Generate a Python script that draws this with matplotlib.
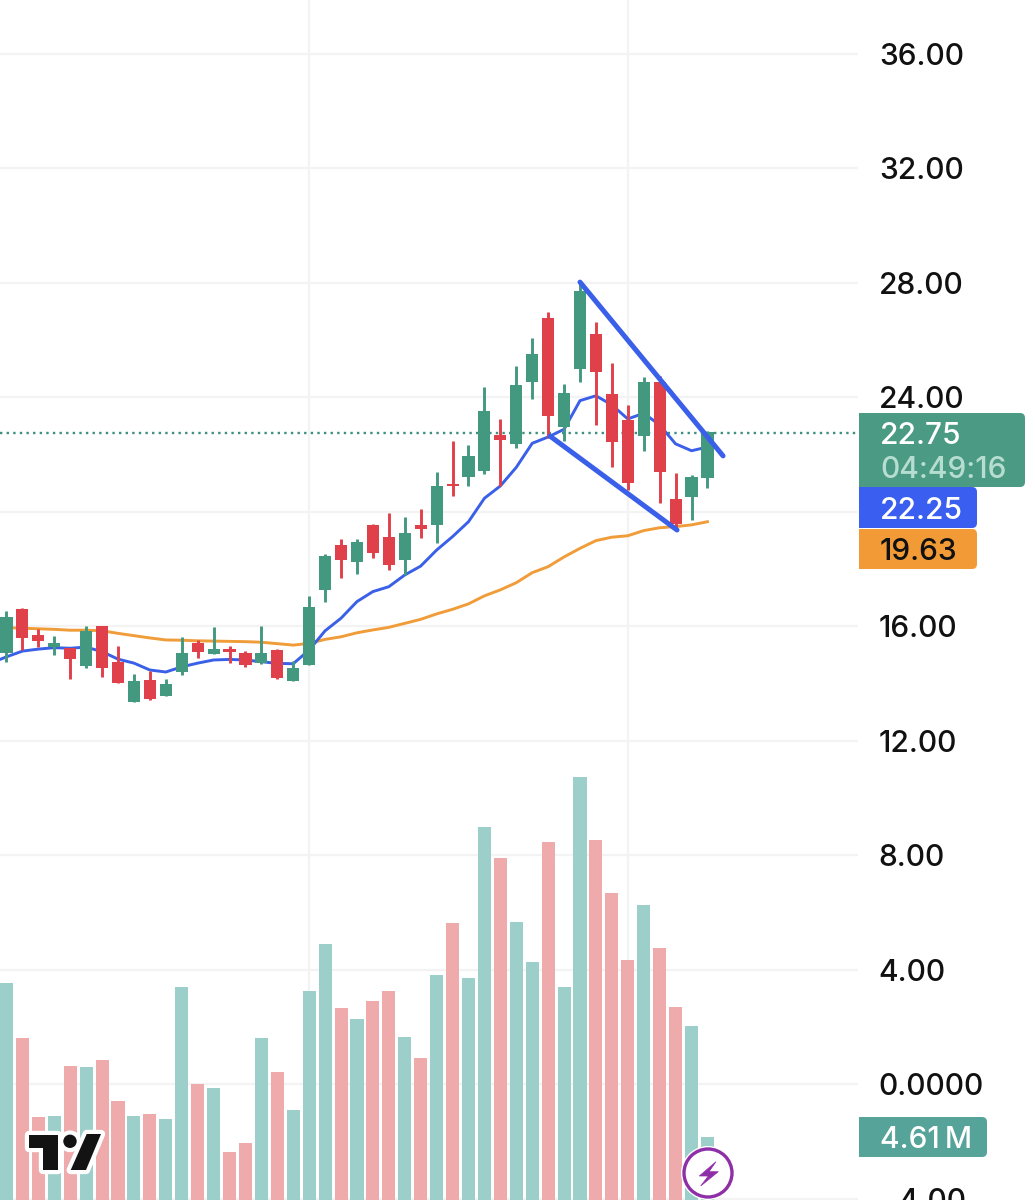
import numpy as np
import matplotlib
matplotlib.use("Agg")
import matplotlib.pyplot as plt
from matplotlib.patches import FancyBboxPatch, Rectangle, Polygon, Circle
from matplotlib.transforms import Affine2D

plt.rcParams['font.family'] = ['Inter', 'DejaVu Sans']

open_ = [15.08,16.60,15.70,15.28,15.24,14.62,16.02,14.77,13.36,14.13,13.58,14.42,15.42,15.05,15.20,15.08,14.71,15.18,14.10,14.65,
         17.26,18.84,18.24,19.55,19.12,18.32,19.55,19.56,20.98,21.22,21.44,22.69,22.37,24.55,26.78,22.98,25.01,26.22,24.11,23.22,
         22.65,24.54,20.46,20.53,21.20]
close = [16.32,15.61,15.49,15.42,14.85,15.85,14.56,14.02,14.10,13.47,13.99,15.08,15.10,15.20,15.10,14.64,15.08,14.20,14.55,16.68,
         18.47,18.33,18.95,18.58,18.16,19.26,19.42,20.91,20.91,21.96,23.53,22.53,24.43,25.52,23.35,24.17,27.73,24.89,22.46,21.02,
         24.54,21.41,19.58,21.22,22.78]
high = [16.54,16.64,15.91,15.67,15.24,16.03,16.03,15.32,14.33,14.46,14.17,15.62,15.52,15.98,15.32,15.13,16.01,15.22,14.80,17.07,
        18.53,19.05,19.05,19.57,19.97,19.83,20.10,21.39,22.49,22.35,24.36,23.25,25.10,26.07,26.98,24.46,27.99,26.64,25.21,23.75,
        24.73,24.75,21.37,21.28,22.83]
low = [14.77,15.18,15.29,15.01,14.17,14.56,14.23,14.02,13.36,13.42,13.56,14.32,14.90,15.05,14.71,14.60,14.68,14.18,14.10,14.65,
       16.87,17.70,17.84,18.38,17.97,17.80,19.08,18.93,20.56,20.92,21.32,20.91,22.25,23.96,22.57,22.48,24.55,23.04,21.58,20.77,
       22.13,20.32,19.37,19.72,20.85]
volume_m = [15.88,11.85,6.07,6.15,9.80,9.73,10.24,7.24,6.15,6.29,5.93,15.59,8.49,8.20,3.51,4.17,11.85,9.37,6.59,15.29,
            18.73,14.05,13.24,14.56,15.29,11.93,10.39,16.46,20.27,16.24,27.29,25.02,20.34,17.41,26.19,15.59,30.95,26.34,22.46,17.56,
            21.59,18.44,14.12,12.73,4.61]
# moving averages, first value is one session before the first candle
ma_fast = [14.72,14.94,15.14,15.21,15.26,15.24,15.28,15.12,14.86,14.72,14.48,14.41,14.59,14.72,14.83,14.85,14.83,14.77,14.71,14.70,15.18,
           15.85,16.29,16.87,17.22,17.39,17.80,18.11,18.67,19.14,19.66,20.48,20.91,21.56,22.40,22.62,22.89,23.89,24.06,23.74,23.25,
           23.45,23.04,22.38,22.14,22.27]
ma_slow = [15.98,15.96,15.94,15.92,15.90,15.87,15.87,15.85,15.76,15.68,15.60,15.53,15.52,15.50,15.49,15.48,15.47,15.45,15.40,15.35,15.41,
           15.55,15.64,15.78,15.88,15.97,16.11,16.25,16.44,16.60,16.79,17.07,17.28,17.53,17.88,18.09,18.43,18.73,19.00,19.12,19.17,
           19.35,19.45,19.49,19.55,19.66]
wedge_upper_x = [36.0, 44.98]
wedge_upper_y = [28.03, 21.96]
wedge_lower_x = [34.12, 42.09]
wedge_lower_y = [22.65, 19.37]
last_price = 22.75
price_ticks = [36, 32, 28, 24, 20, 16, 12, 8, 4, 0, -4]
price_labels = ['36.00', '32.00', '28.00', '24.00', '', '16.00', '12.00', '8.00', '4.00', '0.0000', '\u22124.00']
time_ticks = [19, 39]

GREEN, RED = '#439880', '#e0404a'
VGREEN, VRED = '#9ccfca', '#efabab'
BLUE, ORANGE = '#3a5fe8', '#f09c38'
GRID = '#f3f3f3'
FS = 21.5

W, H = 1035, 1200
fig = plt.figure(figsize=(W / 100, H / 100), dpi=100, facecolor='white')
pos = [0, 0, 858 / W, 1]
XLIM = (-0.408, 53.45)
YLIM = (-4.035, 37.886)

ax_grid = fig.add_axes(pos, zorder=0)
ax_vol = fig.add_axes(pos, zorder=1)
ax = fig.add_axes(pos, zorder=2)

x = np.arange(len(close))
is_up = np.array(close) >= np.array(open_)

# grid and price scale
ax_grid.set_xlim(XLIM)
ax_grid.set_ylim(YLIM)
ax_grid.set_yticks(price_ticks)
ax_grid.set_yticklabels(price_labels)
ax_grid.set_xticks(time_ticks)
ax_grid.set_xticklabels([])
ax_grid.yaxis.tick_right()
ax_grid.tick_params(axis='y', length=0, pad=15, labelsize=FS, labelcolor='#111111')
ax_grid.tick_params(axis='x', length=0)
ax_grid.grid(True, color=GRID, lw=1.6)
for s in ax_grid.spines.values():
    s.set_visible(False)
for t in ax_grid.get_yticklabels():
    t.set_fontweight('medium')

# volume
ax_vol.set_xlim(XLIM)
ax_vol.set_ylim(0, 1200 * 4.61 / 63)
ax_vol.axis('off')
ax_vol.patch.set_alpha(0)
ax_vol.bar(x, volume_m, width=0.82, color=[VGREEN if u else VRED for u in is_up], linewidth=0)

# price
ax.set_xlim(XLIM)
ax.set_ylim(YLIM)
ax.axis('off')
ax.patch.set_alpha(0)
ax.axhline(last_price, color='#3f8f7f', lw=1.7, ls=(0, (1, 1.8)), zorder=1)
ax.plot(np.arange(-1, len(close)), ma_slow, color=ORANGE, lw=2.1, zorder=2)
ax.plot(np.arange(-1, len(close)), ma_fast, color=BLUE, lw=2.1, zorder=2)
colors = [GREEN if u else RED for u in is_up]
ax.vlines(x, low, high, colors=colors, lw=2.1, zorder=3)
ax.bar(x, np.abs(np.array(close) - np.array(open_)), bottom=np.minimum(open_, close),
       width=0.76, color=colors, linewidth=0, zorder=4)
ax.plot(wedge_upper_x, wedge_upper_y, color=BLUE, lw=3.6, solid_capstyle='round', zorder=5)
ax.plot(wedge_lower_x, wedge_lower_y, color=BLUE, lw=3.6, solid_capstyle='round', zorder=5)

# overlays in pixel coordinates, origin at top left
px = Affine2D().scale(1, -1).translate(0, H)


def tag(x0, y0, x1, y1, color):
    fig.add_artist(FancyBboxPatch((x0 + 6, y0 + 4), x1 - x0 - 10, y1 - y0 - 8,
                                  boxstyle='round,pad=4,rounding_size=5', fc=color, ec='none',
                                  transform=px, zorder=6))
    fig.add_artist(Rectangle((x0, y0), 12, y1 - y0, fc=color, ec='none', transform=px, zorder=6))


def label(x0, yc, s, color):
    fig.add_artist(plt.Text(x0, yc, s, color=color, fontsize=FS, fontweight='medium', va='center_baseline', ha='left',
                            transform=px, zorder=7))


tag(859, 413, 1025, 487, '#4a9a84')
tag(859, 487, 977, 528, '#3a5ff0')
tag(859, 529, 977, 569, '#f29b36')
tag(859, 1117, 987, 1157, '#55a399')
label(880, 433, '22.75', 'white')
label(880, 467, '04:49:16', '#b7ddd1')
label(880, 508, '22.25', 'white')
label(880, 549, '19.63', '#111111')
label(880, 1137, '4.61\u2009M', 'white')

# TradingView-like mark
logo_bar = [(29.3, 1134.7), (57.7, 1134.7), (57.7, 1170), (43.3, 1170), (43.3, 1148.3), (29.3, 1148.3)]
logo_slash = [(86.7, 1134), (101, 1134), (86, 1170), (70.7, 1170)]
for pts in (logo_bar, logo_slash):
    fig.add_artist(Polygon(pts, closed=True, fc='white', ec='white', lw=6, joinstyle='round', transform=px, zorder=6))
fig.add_artist(Circle((70, 1141.3), 6.7, fc='white', ec='white', lw=6, transform=px, zorder=6))
for pts in (logo_bar, logo_slash):
    fig.add_artist(Polygon(pts, closed=True, fc='#131313', ec='none', transform=px, zorder=7))
fig.add_artist(Circle((70, 1141.3), 6.7, fc='#131313', ec='none', transform=px, zorder=7))

# lightning badge
fig.add_artist(Circle((708, 1173), 27, fc='white', ec='none', transform=px, zorder=6))
fig.add_artist(Circle((708, 1173), 24, fc='white', ec='#8e2fa8', lw=2.4, transform=px, zorder=7))
bolt = [(716, 1161.7), (699.3, 1176), (708.3, 1176), (700.7, 1186), (718.3, 1171.7), (709, 1171.7)]
fig.add_artist(Polygon(bolt, closed=True, fc='#8e2fa8', ec='#8e2fa8', lw=0.5, transform=px, zorder=8))

fig.savefig('out.png', dpi=100)
